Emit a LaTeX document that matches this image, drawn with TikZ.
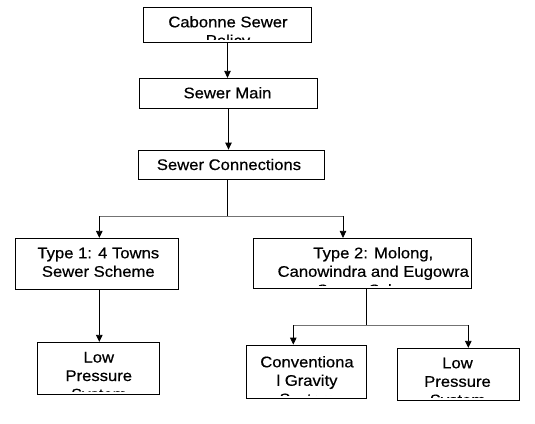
\documentclass[tikz,border=0pt]{standalone}
\usepackage{fontspec}
\setmainfont{Liberation Sans}[FakeStretch=1.08, FakeBold=0.5]
\usepackage{tikz}
\usetikzlibrary{arrows.meta}
\tikzset{
    orgbox/.style={
        rectangle,
        draw=black,
        line width=0.8pt,
        inner sep=0pt
    },
    boxtext/.style={
        inner sep=0pt,
        anchor=base,
        font=\fontsize{15.4}{18.5}\selectfont
    },
    link/.style={
        line width=0.8pt,
        draw=black
    },
    bar/.style={
        line width=0.8pt,
        draw=black!55
    },
    arrow/.style={
        -{Triangle[length=7pt,width=6.5pt]},
        line width=0.8pt,
        draw=black
    }
}
% text that is cut off a little above the bottom edge of its box
% (#3 is the baseline of the first line)
\newcommand{\clippedtext}[4]{%
    \begin{scope}
        \clip (#1.north west) rectangle ([yshift=3.2pt]#1.south east);
        \node[boxtext] (#1-text) at (#2,#3)
            {\begin{tabular}[t]{@{}c@{}}#4\end{tabular}};
    \end{scope}}

\begin{document}
\begin{tikzpicture}[x=1pt, y=-1pt]
    \useasboundingbox (0,0) rectangle (535,423);

    \node[orgbox, minimum width=168.4pt, minimum height=35.4pt] (policy) at (227.5,25) {};
    \node[orgbox, minimum width=178.4pt, minimum height=30pt] (main) at (228.5,93.3) {};
    \node[orgbox, minimum width=186pt, minimum height=29.3pt] (conn) at (231.3,164.65) {};
    \node[orgbox, minimum width=163.3pt, minimum height=51pt] (type1) at (96.65,263.8) {};
    \node[orgbox, minimum width=217.7pt, minimum height=50.2pt] (type2) at (362.65,263.4) {};
    \node[orgbox, minimum width=121.9pt, minimum height=51.9pt] (low1) at (98.45,368.25) {};
    \node[orgbox, minimum width=119.3pt, minimum height=53.3pt] (grav) at (306.35,371.65) {};
    \node[orgbox, minimum width=122pt, minimum height=51.7pt] (low2) at (458.3,374.15) {};

    \clippedtext{policy}{228}{27.3}{Cabonne Sewer\\Policy}
    \clippedtext{main}{227.5}{98.3}{Sewer Main}
    \clippedtext{conn}{229}{170}{Sewer Connections}
    \clippedtext{type1}{98.3}{258.3}{Type 1: 4 Towns\\Sewer Scheme}
    \clippedtext{type2}{373.3}{258.3}{Type 2: Molong,\\Canowindra and Eugowra\\Sewer Scheme}
    \clippedtext{low1}{98.8}{362.5}{Low\\Pressure\\System}
    \clippedtext{grav}{307}{367.3}{Conventiona\\l Gravity\\System}
    \clippedtext{low2}{457.5}{368.3}{Low\\Pressure\\System}

    \coordinate (split) at (227.7,216);
    \coordinate (splitl) at (99.3,216);
    \coordinate (splitr) at (343,216);
    \coordinate (fork) at (366,325);
    \coordinate (forkl) at (293.3,325);
    \coordinate (forkr) at (468.3,325);

    \draw[arrow] (policy.south) -- (policy.south |- main.north);
    \draw[arrow] (main.south) -- (main.south |- conn.north);
    \draw[link] (split |- conn.south) -- (split);
    \draw[bar] (splitl) -- (splitr);
    \draw[arrow] (splitl) -- (splitl |- type1.north);
    \draw[arrow] (splitr) -- (splitr |- type2.north);
    \draw[arrow] (splitl |- type1.south) -- (splitl |- low1.north);
    \draw[link] (fork |- type2.south) -- (fork);
    \draw[bar] (forkl) -- (forkr);
    \draw[arrow] (forkl) -- (forkl |- grav.north);
    \draw[arrow] (forkr) -- (forkr |- low2.north);
\end{tikzpicture}
\end{document}
